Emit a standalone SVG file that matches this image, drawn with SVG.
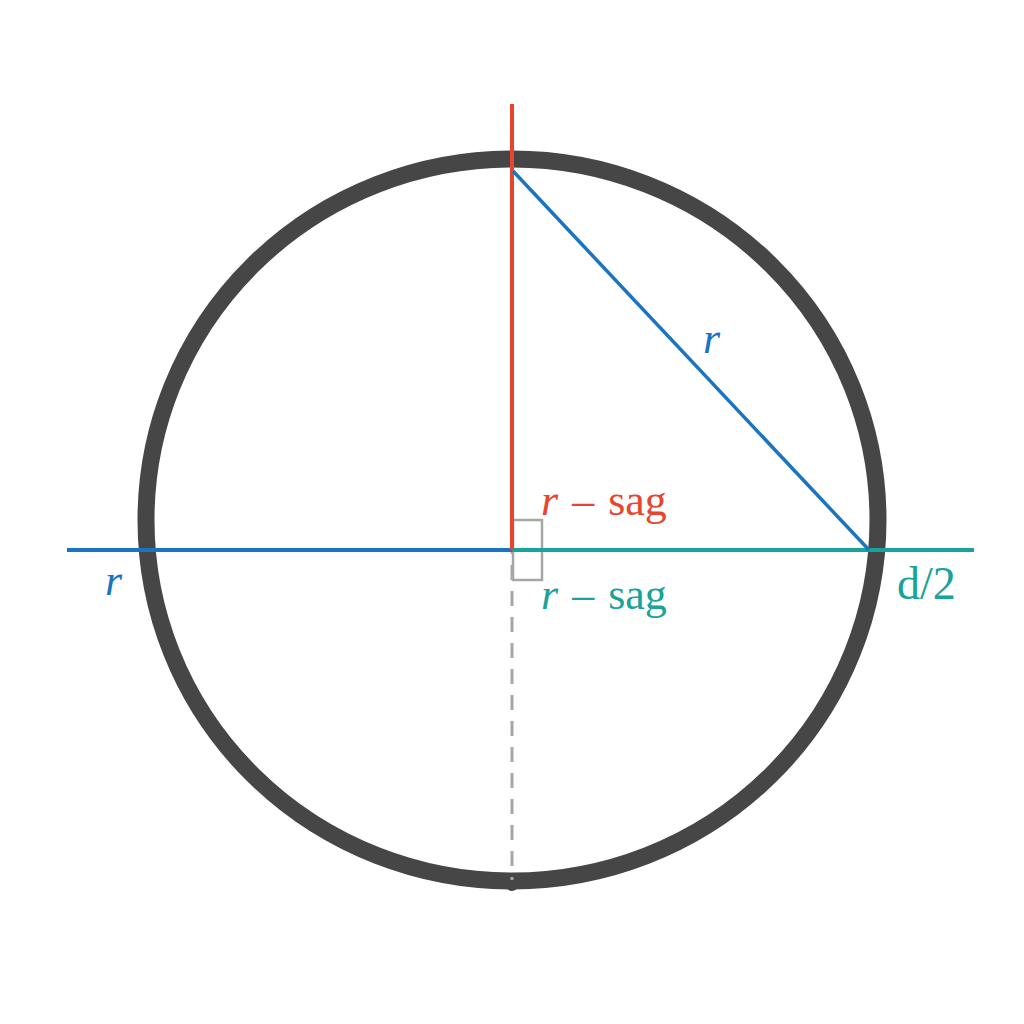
<svg xmlns="http://www.w3.org/2000/svg" width="1024" height="1024" viewBox="0 0 1024 1024">
<style>
.lbl{font-family:"Liberation Serif","DejaVu Serif",serif;font-size:44px;word-spacing:3px}
.it{font-style:italic}
.red{fill:#e8452f}.blue{fill:#1a74c2}.teal{fill:#18a39b}
</style>
<rect width="1024" height="1024" fill="#ffffff"/>
<g id="circle">
<ellipse cx="512" cy="520" rx="366" ry="361" fill="none" stroke="#464646" stroke-width="17"/>
<circle cx="512" cy="885" r="6" fill="#464646"/>
</g>
<g id="connectors">
<line x1="512" y1="550" x2="512" y2="880" stroke="#a6a6a6" stroke-width="3" stroke-dasharray="15 11" stroke-dashoffset="-15"/>
<rect x="513" y="520" width="29" height="60" fill="none" stroke="#a6a6a6" stroke-width="2.5"/>
<line x1="67" y1="550" x2="512" y2="550" stroke="#1a74c2" stroke-width="4"/>
<line x1="512" y1="550" x2="974" y2="550" stroke="#18a39b" stroke-width="4"/>
<line x1="512" y1="104" x2="512" y2="550" stroke="#e8452f" stroke-width="4"/>
<line x1="513" y1="171" x2="869" y2="550" stroke="#1a74c2" stroke-width="3.5"/>
</g>
<g id="labels">
<text class="lbl red" x="541" y="515"><tspan class="it">r</tspan> – sag</text>
<text class="lbl teal" x="541" y="609"><tspan class="it">r</tspan> – sag</text>
<text class="lbl teal" x="897" y="599" style="font-size:46px">d/2</text>
<text class="lbl blue it" x="105" y="595">r</text>
<text class="lbl blue it" x="703" y="353">r</text>
</g>
</svg>
